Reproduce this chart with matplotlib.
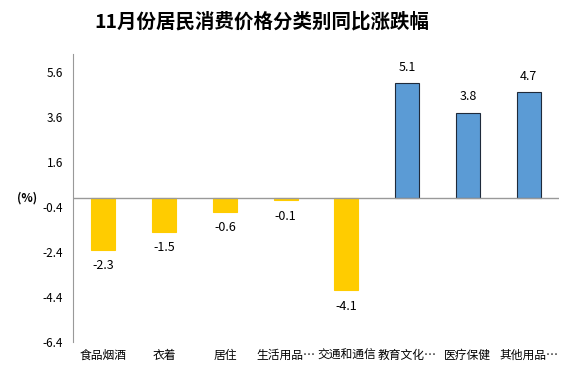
import matplotlib
matplotlib.use('Agg')
import matplotlib.pyplot as plt

plt.rcParams['font.family'] = ['Noto Sans CJK SC', 'DejaVu Sans']

# 数据
categories = ['食品烟酒', '衣着', '居住', '生活用品…', '交通和通信', '教育文化…', '医疗保健', '其他用品…']
values = [-2.3, -1.5, -0.6, -0.1, -4.1, 5.1, 3.8, 4.7]
yticks = [-6.4, -4.4, -2.4, -0.4, 1.6, 3.6, 5.6]

fig = plt.figure(figsize=(5.74, 3.74), dpi=100)
ax = fig.add_axes([73 / 574, 32 / 374, 486 / 574, 288 / 374])

x = list(range(len(categories)))
colors = ['#FFCC00' if v < 0 else '#5B9BD5' for v in values]
edges = ['#FFCC00' if v < 0 else '#1F2A3A' for v in values]
ax.bar(x, values, width=0.395, color=colors, edgecolor=edges, linewidth=0.8, zorder=2)

for xi, v in zip(x, values):
    if v < 0:
        ax.annotate(f'{v:.1f}', (xi, v), xytext=(0, -7), textcoords='offset points',
                    ha='center', va='top', fontsize=9)
    else:
        ax.annotate(f'{v:.1f}', (xi, v), xytext=(0, 7), textcoords='offset points',
                    ha='center', va='bottom', fontsize=9)

ax.set_xlim(-0.5, len(categories) - 0.5)
ax.set_ylim(-6.4, 6.4)
ax.set_yticks(yticks)
ax.set_yticklabels([f'{t:.1f}' for t in yticks], fontsize=8.5)
ax.tick_params(axis='y', length=0, pad=7)
ax.tick_params(axis='x', length=0, pad=5)
ax.set_xticks(x)
ax.set_xticklabels(categories, fontsize=8.5)

for s in ['top', 'right', 'bottom']:
    ax.spines[s].set_visible(False)
ax.spines['left'].set_color('#999999')
ax.axhline(0, color='#999999', linewidth=1, zorder=3)

fig.text(27 / 574, 1 - 198 / 374, '(%)', ha='center', va='center', fontsize=8.5, fontweight='bold')
fig.text(262 / 574, 1 - 22 / 374, '11月份居民消费价格分类别同比涨跌幅', ha='center', va='center',
         fontsize=14, fontweight='bold')

fig.savefig('out.png', dpi=100)
